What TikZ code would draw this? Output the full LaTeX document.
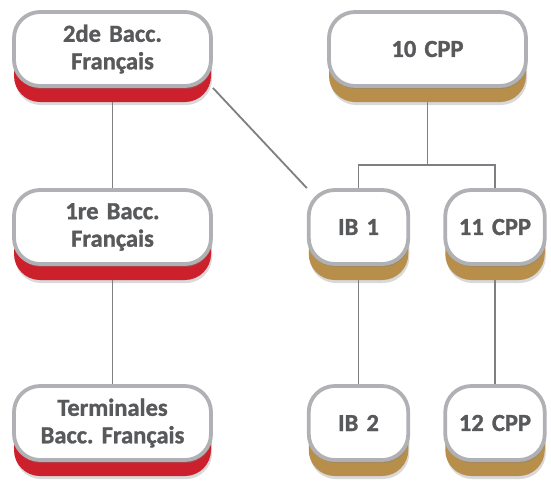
\documentclass[tikz,border=0pt]{standalone}
\usepackage{fontspec}
\setmainfont{Carlito}[WordSpace=0.7,BoldFeatures={FakeBold=1.2}]
\frenchspacing
\usetikzlibrary{shadows,backgrounds}
\definecolor{txtgray}{HTML}{58595B}
\definecolor{rimgray}{HTML}{B0B1B5}
\definecolor{linegray}{HTML}{7E7F82}
\definecolor{baccred}{HTML}{CC202C}
\definecolor{cppgold}{HTML}{B88F4A}
\tikzset{
  box/.style={draw=rimgray, line width=3.8pt, fill=white, rounded corners=26pt,
    text=txtgray, font=\fontsize{24.5}{27.5}\selectfont\bfseries, align=center,
    minimum height=74pt, inner sep=0pt},
  widebox/.style={box, minimum width=197pt, text width=190pt},
  smallbox/.style={box, minimum width=99.5pt, text width=95pt},
  bacc/.style={drop shadow={shadow xshift=1pt, shadow yshift=-19pt, opacity=.3},
    copy shadow={shadow xshift=0pt, shadow yshift=-16pt, draw=none, fill=baccred},
    drop shadow={shadow xshift=1pt, shadow yshift=-3pt, opacity=.35}},
  cpp/.style={drop shadow={shadow xshift=1pt, shadow yshift=-19pt, opacity=.3},
    copy shadow={shadow xshift=0pt, shadow yshift=-16pt, draw=none, fill=cppgold},
    drop shadow={shadow xshift=1pt, shadow yshift=-3pt, opacity=.35}},
  link/.style={draw=linegray, line width=1.8pt}
}
\begin{document}
\begin{tikzpicture}[x=1pt,y=-1pt]
\useasboundingbox (0,0) rectangle (551,483);
% left column
\node[widebox,bacc] (bac2) at (112.5,49)  {2de Bacc.\\Français};
\node[widebox,bacc] (bac1) at (112.5,227) {1re Bacc.\\Français};
\node[widebox,bacc] (term) at (112.5,423) {Terminales\\Bacc. Français};
% right side
\node[widebox,cpp]  (cpp10) at (427.5,49)  {10 CPP};
\node[smallbox,cpp] (ib1)   at (358.5,227) {IB 1};
\node[smallbox,cpp] (cpp11) at (495,227)   {11 CPP};
\node[smallbox,cpp] (ib2)   at (358.5,423) {IB 2};
\node[smallbox,cpp] (cpp12) at (495,423)   {12 CPP};
\coordinate (split) at (427.5,165);

\begin{scope}[on background layer]
\draw[link] (bac2.south) -- (bac1.north);
\draw[link] (bac1.south) -- (term.north);
\draw[link] (bac2.south east) -- (ib1.north west);
\draw[link] (cpp10.south) -- (split);
\draw[link] (ib1.north) |- (split) -| (cpp11.north);
\draw[link] (ib1.south) -- (ib2.north);
\draw[link] (cpp11.south) -- (cpp12.north);
\end{scope}
\end{tikzpicture}
\end{document}
